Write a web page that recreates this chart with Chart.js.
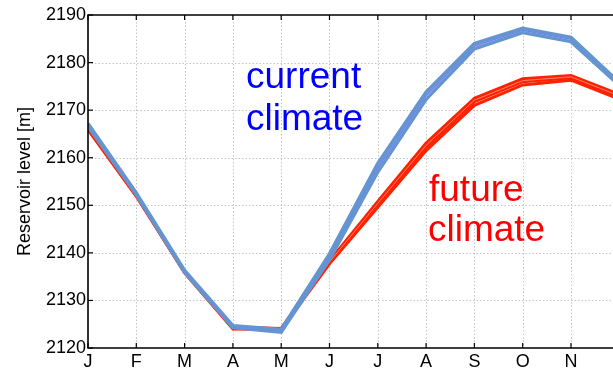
<!DOCTYPE html>
<html>
<head>
<meta charset="utf-8">
<script src="https://cdn.jsdelivr.net/npm/chart.js@4.4.1/dist/chart.umd.min.js"></script>
<style>
  html, body { margin: 0; padding: 0; background: #fff; overflow: hidden; }
  #wrap { width: 613px; height: 368px; }
</style>
</head>
<body>
<div id="wrap"><canvas id="c" width="613" height="368"></canvas></div>
<script>
// Month initials along the x axis (Jan..Dec)
const months = ['J', 'F', 'M', 'A', 'M', 'J', 'J', 'A', 'S', 'O', 'N', 'D'];

// Reservoir level [m], current climate ensemble members
const currentHigh = [2167.2, 2152.6, 2136.3, 2124.7, 2123.9, 2139.8, 2158.8, 2173.8, 2184.0, 2187.2, 2185.3, 2175.8];
const currentMid  = [2166.9, 2152.4, 2136.1, 2124.5, 2123.6, 2139.2, 2157.9, 2173.1, 2183.5, 2186.8, 2184.9, 2175.5];
const currentLow  = [2166.6, 2152.2, 2135.9, 2124.3, 2123.3, 2138.6, 2157.0, 2172.3, 2182.9, 2186.3, 2184.4, 2175.2];

// Reservoir level [m], future climate ensemble members
const futureHigh = [2166.3, 2152.1, 2136.0, 2124.4, 2124.1, 2138.3, 2150.8, 2163.1, 2172.5, 2176.6, 2177.3, 2173.3];
const futureMid  = [2166.1, 2152.0, 2135.9, 2124.2, 2124.0, 2138.0, 2150.2, 2162.3, 2171.8, 2176.0, 2176.8, 2172.8];
const futureAlt  = [2166.2, 2152.0, 2135.9, 2124.3, 2124.1, 2138.1, 2150.4, 2162.6, 2172.1, 2176.2, 2177.0, 2173.0];
const futureLow  = [2165.9, 2151.9, 2135.8, 2124.0, 2123.9, 2137.7, 2149.6, 2161.5, 2171.0, 2175.3, 2176.3, 2172.3];

// y axis range and step
const yMin = 2120, yMax = 2190, yStep = 10;

const FONT = '"Liberation Sans", Arial, Helvetica, sans-serif';

function toPoints(arr) { return arr.map((v, i) => ({ x: i, y: v })); }

function member(data, color, width) {
  return {
    data: toPoints(data),
    borderColor: color,
    borderWidth: width,
    pointRadius: 0,
    tension: 0,
    fill: false,
    borderJoinStyle: 'miter'
  };
}

// Dotted grid, black frame with inward tick marks
const framePlugin = {
  id: 'frame',
  beforeDatasetsDraw(chart) {
    const { ctx, chartArea: a, scales: { x, y } } = chart;
    ctx.save();
    ctx.strokeStyle = '#c4c4c4';
    ctx.lineWidth = 1;
    ctx.setLineDash([1.5, 2]);
    x.ticks.forEach(t => {
      if (t.value === 0) return;
      const px = Math.round(x.getPixelForValue(t.value)) + 0.5;
      ctx.beginPath(); ctx.moveTo(px, a.top); ctx.lineTo(px, a.bottom); ctx.stroke();
    });
    y.ticks.forEach(t => {
      if (t.value === yMin || t.value === yMax) return;
      const py = Math.round(y.getPixelForValue(t.value)) + 0.5;
      ctx.beginPath(); ctx.moveTo(a.left, py); ctx.lineTo(a.right, py); ctx.stroke();
    });
    ctx.restore();
  },
  afterDatasetsDraw(chart) {
    const { ctx, chartArea: a, scales: { x, y } } = chart;
    ctx.save();
    ctx.strokeStyle = '#000';
    ctx.lineWidth = 1.6;
    ctx.setLineDash([]);
    ctx.beginPath();
    ctx.moveTo(a.right + 2, a.top); ctx.lineTo(a.left, a.top);
    ctx.lineTo(a.left, a.bottom); ctx.lineTo(a.right + 2, a.bottom);
    ctx.stroke();
    ctx.lineWidth = 1.2;
    const tl = 5;
    x.ticks.forEach(t => {
      const px = x.getPixelForValue(t.value);
      ctx.beginPath();
      ctx.moveTo(px, a.bottom); ctx.lineTo(px, a.bottom - tl);
      ctx.moveTo(px, a.top); ctx.lineTo(px, a.top + tl);
      ctx.stroke();
    });
    y.ticks.forEach(t => {
      const py = y.getPixelForValue(t.value);
      ctx.beginPath(); ctx.moveTo(a.left, py); ctx.lineTo(a.left + tl, py); ctx.stroke();
    });
    ctx.restore();
  }
};

// Text annotations naming the two scenarios
const notesPlugin = {
  id: 'notes',
  afterDatasetsDraw(chart) {
    const { ctx } = chart;
    ctx.save();
    ctx.font = '37px ' + FONT;
    ctx.textAlign = 'left';
    ctx.textBaseline = 'alphabetic';
    ctx.fillStyle = '#0000ff';
    ctx.fillText('current', 246, 88);
    ctx.fillText('climate', 246, 130);
    ctx.fillStyle = '#ff0000';
    ctx.fillText('future', 429, 201);
    ctx.fillText('climate', 428, 241);
    ctx.restore();
  }
};

const xMax = 10.87;

new Chart(document.getElementById('c'), {
  type: 'line',
  data: {
    datasets: [
      // blue ensemble drawn on top of the red one
      member(currentHigh, '#6495d0', 3.4),
      member(currentLow, '#6495d0', 3.4),
      member(currentMid, '#7a7cf5', 1.6),
      member(futureAlt, '#ff8070', 1.0),
      member(futureMid, '#ff2200', 3.2),
      member(futureHigh, '#ff2200', 3.0),
      member(futureLow, '#ff2200', 3.0)
    ]
  },
  options: {
    responsive: false,
    devicePixelRatio: 1,
    animation: false,
    events: [],
    layout: { padding: { top: 15, right: 0, left: 0, bottom: 0 } },
    plugins: { legend: { display: false }, tooltip: { enabled: false } },
    scales: {
      x: {
        type: 'linear',
        min: 0,
        max: xMax,
        grid: { display: false, drawTicks: false },
        border: { display: false },
        afterBuildTicks: s => {
          s.ticks = months.map((m, i) => ({ value: i })).filter(t => t.value <= xMax);
        },
        ticks: {
          autoSkip: false,
          maxRotation: 0,
          padding: 3,
          color: '#000',
          font: { family: FONT, size: 18 },
          callback: v => months[v]
        },
        afterFit: s => { s.height = 20; }
      },
      y: {
        min: yMin,
        max: yMax,
        grid: { display: false, drawTicks: false },
        border: { display: false },
        ticks: {
          stepSize: yStep,
          padding: 2,
          color: '#000',
          font: { family: FONT, size: 18 },
          callback: v => String(v)
        },
        title: {
          display: true,
          text: 'Reservoir level [m]',
          color: '#000',
          font: { family: FONT, size: 18 },
          padding: { top: 14, bottom: 0 }
        },
        afterFit: s => { s.width = 88; }
      }
    }
  },
  plugins: [framePlugin, notesPlugin]
});
</script>
</body>
</html>
